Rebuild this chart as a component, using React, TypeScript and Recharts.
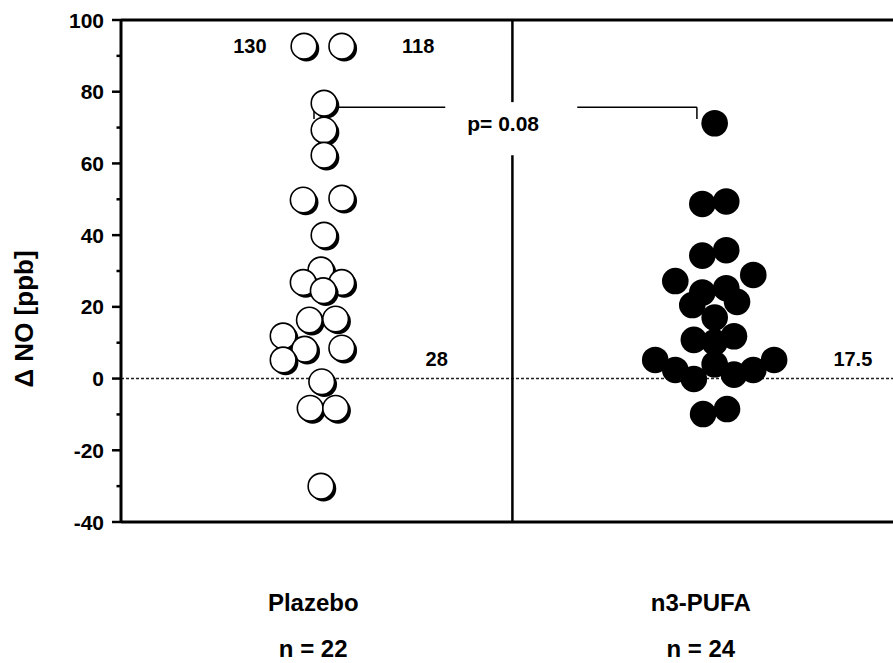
import React from "react";
import {
    ScatterChart,
    Scatter,
    XAxis,
    YAxis,
    ReferenceLine,
    ReferenceDot,
    Label
} from "recharts";

const FONT = "'Liberation Sans', Arial, sans-serif";

/** Group names and counts shown under the plot */
const groups = ["Plazebo", "n3-PUFA"];
const groupCounts = ["n = 22", "n = 24"];
const groupCenters = [24.9, 75.1];

/** Placebo: jitter position and change in NO (ppb) */
const placeboX = [23.7, 28.6, 26.3, 26.3, 26.3, 23.6, 28.6, 26.3, 25.9, 23.6, 28.6, 26.2, 24.4, 27.8, 21.0, 23.8, 28.6, 21.0, 26.0, 24.5, 27.8, 25.9];
const placeboY = [92.7, 92.7, 76.8, 69.3, 62.3, 49.8, 50.3, 40, 30.3, 26.8, 26.8, 24.5, 16.3, 16.6, 11.9, 8.2, 8.5, 5.2, -0.9, -8.3, -8.3, -30];

/** n3-PUFA: jitter position and change in NO (ppb) */
const pufaX = [76.9, 75.3, 78.4, 75.3, 78.4, 71.8, 81.9, 75.3, 78.4, 74.0, 79.8, 76.9, 74.2, 79.4, 76.9, 69.2, 84.6, 71.8, 76.9, 81.9, 74.2, 79.4, 75.4, 78.5];
const pufaY = [71.2, 48.7, 49.4, 34.3, 35.8, 27.2, 28.9, 24.0, 25.2, 20.5, 21.4, 17.0, 10.8, 11.8, 10.1, 5.2, 5.2, 2.4, 4.0, 2.4, -0.1, 1.1, -9.9, -8.5];

/** Out-of-range values and medians written next to the points */
const noteText = ["130", "118", "28", "17.5"];
const noteX = [16.7, 38.5, 40.9, 94.8];
const noteY = [92.7, 92.7, 5.4, 5.4];

const yTicks = [-40, -30, -20, -10, 0, 10, 20, 30, 40, 50, 60, 70, 80, 90, 100];

const placeboData = placeboX.map((x, i) => ({ x, y: placeboY[i] }));
const pufaData = pufaX.map((x, i) => ({ x, y: pufaY[i] }));

const OpenDot = (props: any) => {
    const { cx, cy } = props;
    return (
        <g>
            <circle cx={cx + 2.5} cy={cy + 2.5} r={12.8} fill="#000" />
            <circle cx={cx} cy={cy} r={12.8} fill="#fff" stroke="#000" strokeWidth={1.6} />
        </g>
    );
};

const FilledDot = (props: any) => (
    <circle cx={props.cx} cy={props.cy} r={13.3} fill="#000" />
);

const YTick = (props: any) => {
    const { x, y, payload } = props;
    const major = payload.value % 20 === 0;
    return (
        <g>
            <line x1={x - (major ? 9 : 4.5)} x2={x} y1={y} y2={y} stroke="#000" strokeWidth={2.5} />
            {major && (
                <text
                    x={x - 17}
                    y={y}
                    dy="0.36em"
                    textAnchor="end"
                    fontFamily={FONT}
                    fontWeight="bold"
                    fontSize={21}
                    fill="#000"
                >
                    {payload.value}
                </text>
            )}
        </g>
    );
};

const GroupTick = (props: any) => {
    const { x, y, payload } = props;
    const i = groupCenters.indexOf(payload.value);
    return (
        <g fontFamily={FONT} fontWeight="bold" fontSize={24} fill="#000">
            <text x={x} y={y + 89} textAnchor="middle">{groups[i]}</text>
            <text x={x} y={y + 135} textAnchor="middle">{groupCounts[i]}</text>
        </g>
    );
};

const AxisTitle = (props: any) => {
    const { viewBox } = props;
    const cx = viewBox.x + 23;
    const cy = viewBox.y + viewBox.height / 2 + 48;
    return (
        <text
            x={cx}
            y={cy}
            transform={`rotate(-90, ${cx}, ${cy})`}
            textAnchor="middle"
            dominantBaseline="central"
            fontFamily={FONT}
            fontWeight="bold"
            fontSize={26}
            fill="#000"
        >
            Δ NO [ppb]
        </text>
    );
};

export default function App() {
    return (
        <div style={{ position: "absolute", left: 0, top: 0, background: "#fff" }}>
            <ScatterChart
                width={893}
                height={663}
                margin={{ top: 20, right: 0, left: 1, bottom: 140 }}
            >
                <XAxis
                    type="number"
                    dataKey="x"
                    domain={[0, 100]}
                    ticks={groupCenters}
                    interval={0}
                    height={1}
                    tickLine={false}
                    tickSize={0}
                    tickMargin={0}
                    tick={<GroupTick />}
                    axisLine={{ stroke: "#000", strokeWidth: 3 }}
                    allowDataOverflow
                />
                <YAxis
                    type="number"
                    dataKey="y"
                    domain={[-40, 100]}
                    ticks={yTicks}
                    interval={0}
                    width={120}
                    tickLine={false}
                    tickSize={0}
                    tickMargin={0}
                    tick={<YTick />}
                    axisLine={{ stroke: "#000", strokeWidth: 3 }}
                    allowDataOverflow
                >
                    <Label content={<AxisTitle />} />
                </YAxis>
                <ReferenceLine y={100} stroke="#000" strokeWidth={3} />
                <ReferenceLine y={0} stroke="#222" strokeWidth={1.6} strokeDasharray="3 2" />
                <ReferenceLine
                    segment={[{ x: 50.7, y: -40 }, { x: 50.7, y: 62.3 }]}
                    stroke="#000"
                    strokeWidth={2.5}
                />
                <ReferenceLine
                    segment={[{ x: 50.7, y: 77.1 }, { x: 50.7, y: 100 }]}
                    stroke="#000"
                    strokeWidth={2.5}
                />
                {/* significance bracket */}
                <ReferenceLine segment={[{ x: 25.0, y: 72.4 }, { x: 25.0, y: 75.7 }]} stroke="#000" strokeWidth={1.5} />
                <ReferenceLine segment={[{ x: 25.0, y: 75.7 }, { x: 42.0, y: 75.7 }]} stroke="#000" strokeWidth={1.5} />
                <ReferenceLine segment={[{ x: 59.1, y: 75.7 }, { x: 74.6, y: 75.7 }]} stroke="#000" strokeWidth={1.5} />
                <ReferenceLine segment={[{ x: 74.6, y: 75.7 }, { x: 74.6, y: 72.4 }]} stroke="#000" strokeWidth={1.5} />
                <ReferenceDot
                    x={49.5}
                    y={71.0}
                    r={0}
                    fill="none"
                    stroke="none"
                    label={{
                        value: "p= 0.08",
                        position: "center",
                        fontFamily: FONT,
                        fontWeight: "bold",
                        fontSize: 21,
                        fill: "#000"
                    }}
                />
                {noteText.map((t, i) => (
                    <ReferenceDot
                        key={t}
                        x={noteX[i]}
                        y={noteY[i]}
                        r={0}
                        fill="none"
                        stroke="none"
                        label={{
                            value: t,
                            position: "center",
                            fontFamily: FONT,
                            fontWeight: "bold",
                            fontSize: 20,
                            fill: "#000"
                        }}
                    />
                ))}
                <Scatter data={placeboData} shape={<OpenDot />} isAnimationActive={false} />
                <Scatter data={pufaData} shape={<FilledDot />} isAnimationActive={false} />
            </ScatterChart>
        </div>
    );
}
